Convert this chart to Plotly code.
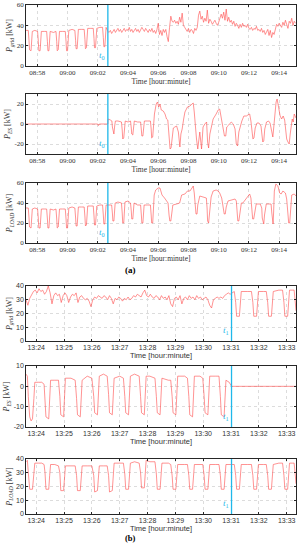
import pandas as pd
import plotly.graph_objects as go

# ---------------- DATA ----------------
# (a) times in seconds after 08:57:00
T0_A = 340  # t0 = 09:02:40
load_a_t = [13, 24, 27, 29, 35, 37, 40, 50, 60,
            61, 64, 66, 71, 73, 76, 88,
            97, 100, 102, 106, 108, 111, 124,
            134, 137, 139, 143, 145, 148, 160,
            171, 174, 176, 180, 182, 185, 198,
            209, 212, 214, 218, 220, 223, 235,
            246, 249, 251, 255, 257, 260, 272,
            282, 285, 287, 291, 293, 296, 308,
            319, 322, 324, 328, 330, 333, 345,
            355, 358, 360, 364, 366, 369, 380,
            394, 397, 399, 403, 405, 408, 420,
            430, 433, 435, 439, 441, 444, 458,
            470, 473, 475, 479, 481, 484, 497,
            509, 512, 514, 518, 520, 524, 530, 540, 547, 555, 565, 573,
            579, 583, 586, 590, 593, 598, 613, 625, 633, 646, 656, 666, 674, 679, 683,
            686, 690, 694, 697, 705, 718, 731,
            734, 736, 740, 743, 750, 758, 770, 778, 784,
            792, 798, 802, 806, 810, 817, 830, 845, 850,
            853, 856, 860, 864, 870, 876, 890, 903, 908,
            912, 915, 919, 923, 929, 945, 951,
            953, 956, 959, 962, 969, 980, 988, 991,
            993, 996, 998, 1001, 1007, 1015, 1022, 1028, 1035, 1045, 1050,
            1055, 1058, 1062, 1066, 1070, 1080, 1087]
load_a_v = [35, 35, 25, 16, 15, 24, 34, 35, 34,
            34, 24, 15, 15, 24, 34, 34,
            34, 24, 15, 15, 25, 34, 33,
            34, 24, 15, 16, 25, 34, 34,
            34, 24, 15, 15, 25, 35, 36,
            35, 25, 17, 17, 26, 36, 36,
            36, 26, 17, 18, 27, 37, 37,
            37, 27, 18, 18, 28, 37, 38,
            38, 28, 19, 19, 28, 38, 38,
            38, 30, 22, 22, 30, 40, 41,
            40, 30, 20, 20, 30, 41, 42,
            40, 32, 24, 24, 32, 40, 38,
            38, 28, 20, 20, 28, 38, 38,
            38, 28, 20, 20, 30, 48, 53, 55, 55, 48, 45, 42,
            40, 28, 22, 22, 28, 38, 39, 40, 48, 49, 52, 52, 55, 57, 50,
            38, 29, 29, 38, 47, 46, 45,
            35, 22, 20, 30, 46, 52, 53, 52, 50,
            45, 35, 29, 29, 36, 42, 43, 44, 42,
            32, 22, 22, 32, 40, 40, 45, 49, 45,
            32, 24, 24, 32, 39, 39, 35,
            25, 19, 19, 28, 39, 39, 39, 30,
            21, 19, 30, 52, 59, 57, 50, 49, 52, 50, 44,
            30, 20, 20, 35, 48, 49, 47]

# grid power after t0, sampled every 5 s starting at t0
GRID_A_STEP = 5
grid_a_post_v = [34, 33, 35, 32, 34, 36, 33, 35, 37, 34, 36, 33, 35, 37, 34, 36, 35, 38, 34, 36,
                 33, 35, 37, 34, 36, 33, 35, 38, 36, 34, 37, 35, 33, 36, 34, 37, 33, 35, 32,
                 36, 42, 31, 35, 30, 36, 33, 36, 29, 24, 38, 49, 44, 43,
                 45, 42, 44, 41, 48, 43, 52, 40, 38,
                 36, 34, 37, 33, 36, 35, 32, 37, 35, 38,
                 50, 54, 46, 49, 43, 47, 44, 55, 42, 46, 44, 41, 43, 45, 42, 40, 43, 48, 51, 47,
                 53, 45, 56, 44, 48, 43, 45,
                 41, 44, 39, 42, 40, 37, 41, 38, 42, 39, 40, 38, 41, 37,
                 36, 38, 35, 37, 36, 39, 35, 36, 34, 37, 33, 35, 31, 34, 36, 30, 35, 28, 33, 31,
                 38, 41, 39, 42, 40, 38, 43, 40, 45, 41, 37, 44, 42, 47, 40, 44, 42]

es_a_t = [13, 300, 303, 306, 340, 341, 350, 356, 358, 361, 364, 367, 370, 380, 390, 394, 397, 399, 403,
          406, 409, 420, 430, 433, 435, 439, 442, 445, 458, 470, 473, 475, 479, 482, 485, 497, 509,
          512, 514, 518, 521, 525, 532, 537, 542, 547, 552, 560, 567, 573, 578, 583, 587, 591, 596,
          600, 606, 613, 620, 626, 630, 635, 641, 646, 656, 666, 674, 679, 683, 687, 692, 697, 705,
          712, 718, 725, 732, 736, 740, 745, 751, 758, 770, 778, 784, 792, 798, 803, 808, 812, 820,
          830, 838, 845, 850, 855, 860, 866, 872, 880, 890, 896, 903, 908, 912, 916, 920, 925, 932,
          940, 948, 952, 955, 959, 963, 970, 978, 984, 990, 995, 998, 1002, 1008, 1012, 1018, 1024,
          1030, 1036, 1042, 1046, 1050, 1055, 1060, 1064, 1068, 1072, 1076, 1080, 1087]
es_a_v = [0, 0, -1.5, 0, 0, 5, 4, 3, -3, -10, -10, -2, 3, 3, 2, 2, -6, -15, -14,
          -5, 3, 2, 3, -4, -10, -11, -3, 3, 2, 2, -6, -12, -12, -4, 3, 3, 3,
          -5, -14, -13, -3, 10, 20, 22, 17, 20, 14, 13, 10, 5, 4, -10, -25, -24, -8,
          -4, -3, -2, -8, -23, -10, -5, 5, 12, 17, 18, 20, 21, 12, -2, -15, -25, -8,
          -25, -3, 0, 2, -18, -24, -10, -2, 5, 10, 14, 15, 5, -5, -12, -12, -3, -1,
          2, 0, -5, -20, -22, -8, -2, 3, 8, 8, 9, 10, 3, -10, -15, -14, -4, 1,
          1, -2, -10, -18, -17, -5, 2, 3, 1, -5, -13, -5, 10, 22, 25, 15, 8,
          5, 8, 4, -5, -15, -18, -20, -10, 0, 5, 2, 10, 6]

# (b) times in seconds after 13:23:00
T1_B = 481  # t1 = 13:31:01
load_b_t = [38, 41, 43, 46, 52, 55, 57, 65, 72, 77,
            79, 81, 87, 89, 91, 100, 108,
            111, 113, 119, 121, 123, 135, 144,
            147, 149, 155, 157, 159, 170, 180,
            184, 186, 192, 194, 196, 205, 213,
            216, 218, 224, 226, 228, 240, 248,
            251, 253, 259, 261, 263, 272, 282,
            285, 287, 293, 295, 297, 305, 316,
            319, 321, 327, 329, 331, 345, 350,
            353, 355, 361, 363, 365, 380, 386,
            389, 391, 397, 399, 401, 413, 419,
            422, 424, 430, 432, 434, 447, 454,
            457, 459, 465, 467, 469, 480, 487,
            490, 492, 498, 500, 502, 515, 524,
            527, 529, 535, 537, 539, 550, 556,
            559, 561, 567, 569, 571, 583, 591,
            594, 596, 602, 604, 606, 613, 616, 618, 620]
load_b_v = [38, 39, 30, 18, 18, 28, 37, 37, 37, 36,
            30, 18, 18, 28, 36, 36, 35,
            30, 17, 17, 27, 35, 35, 35,
            28, 17, 17, 27, 35, 35, 35,
            28, 16, 17, 27, 35, 35, 35,
            28, 16, 17, 28, 37, 37, 37,
            29, 18, 18, 28, 37, 38, 37,
            30, 19, 19, 29, 39, 38, 38,
            29, 18, 18, 28, 37, 37, 36,
            28, 18, 18, 28, 36, 36, 36,
            28, 18, 18, 28, 36, 36, 36,
            28, 18, 18, 28, 36, 36, 36,
            28, 18, 18, 28, 36, 36, 36,
            28, 18, 18, 28, 36, 36, 36,
            28, 18, 18, 28, 36, 36, 36,
            28, 18, 18, 28, 36, 37, 37,
            28, 18, 18, 28, 37, 37, 37, 30, 22]

# grid power before t1, sampled every 4 s starting at 13:23:38
GRID_B_START = 38
GRID_B_STEP = 4
grid_b_pre_v = [30, 26, 31, 34, 36, 37, 35, 38, 36, 37, 34, 36, 40, 35, 27, 33, 35, 33, 34, 28,
                33, 35, 33, 28, 32, 34, 33, 35, 28, 32, 33, 31, 30, 31, 29, 25, 30, 32, 31, 33,
                32, 31, 33, 32, 30, 33, 31, 27, 31, 30, 32, 31, 29, 31, 30, 32, 30, 31, 33, 32,
                34, 33, 32, 35, 37, 33, 32, 34, 32, 31, 33, 32, 30, 33, 31, 32, 30, 33, 27, 25,
                31, 32, 30, 33, 27, 31, 32, 30, 33, 31, 32, 30, 33, 31, 32, 30, 31, 32, 30, 26,
                24, 30, 31, 32, 31, 32, 31, 33, 34, 35, 34]

es_b_t = [38, 41, 43, 46, 49, 52, 55, 57, 65, 72, 77,
          79, 81, 87, 89, 91, 100, 108,
          111, 113, 119, 121, 123, 135, 144,
          147, 149, 155, 157, 159, 170, 180,
          184, 186, 192, 194, 196, 205, 213,
          216, 218, 224, 226, 228, 240, 248,
          251, 253, 259, 261, 263, 272, 282,
          285, 287, 293, 295, 297, 305, 316,
          319, 321, 327, 329, 331, 345, 350,
          353, 355, 361, 363, 365, 380, 386,
          389, 391, 397, 399, 401, 413, 419,
          422, 424, 430, 432, 434, 447, 454,
          457, 459, 465, 467, 469, 476, 479, 481, 620]
es_b_v = [6, 5, -5, -15, -17, -16, -6, 2, 2, 2, 1,
          -5, -15, -16, -6, 3, 3, 3,
          -5, -14, -15, -5, 4, 4, 3,
          -6, -14, -15, -5, 3, 5, 4,
          -5, -13, -14, -5, 5, 6, 5,
          -4, -13, -14, -4, 4, 5, 4,
          -5, -13, -14, -4, 5, 6, 5,
          -5, -13, -14, -4, 5, 5, 4,
          -5, -13, -14, -4, 4, 3, 3,
          -5, -13, -14, -4, 5, 5, 4,
          -5, -14, -15, -5, 5, 5, 4,
          -5, -13, -14, -4, 5, 5, 5,
          -5, -14, -15, -5, 3, 2, 1, 0, 0]

ticks_a = ["08:58", "09:00", "09:02", "09:04", "09:06", "09:08", "09:10", "09:12", "09:14"]
ticks_b = ["13:24", "13:25", "13:26", "13:27", "13:28", "13:29", "13:30", "13:31", "13:32", "13:33"]
RANGE_A = ("08:57:15", "09:15:07")
RANGE_B = ("13:23:38", "13:33:20")

# ---------------- BUILD ----------------
DAY = "2020-01-01 "
BASE_A = pd.Timestamp(DAY + "08:57:00")
BASE_B = pd.Timestamp(DAY + "13:23:00")


def to_a(ts):
    return [BASE_A + pd.Timedelta(seconds=s) for s in ts]


def to_b(ts):
    return [BASE_B + pd.Timedelta(seconds=s) for s in ts]


grid_a_t = [t for t in load_a_t if t <= T0_A] + [T0_A + GRID_A_STEP * i for i in range(len(grid_a_post_v))]
grid_a_v = [v for t, v in zip(load_a_t, load_a_v) if t <= T0_A] + grid_a_post_v

grid_b_t = [GRID_B_START + GRID_B_STEP * i for i in range(len(grid_b_pre_v))] + [t for t in load_b_t if t >= T1_B]
grid_b_v = grid_b_pre_v + [v for t, v in zip(load_b_t, load_b_v) if t >= T1_B]

W, H = 303, 550


def px(x):
    return x / W


def py(y):
    return 1 - y / H


X0, X1 = 26, 296
panels = [
    (to_a(grid_a_t), grid_a_v, 5, 66, [0, 60], [0, 20, 40, 60], "<i>P</i><sub><i>grid</i></sub> [kW]", "a"),
    (to_a(es_a_t), es_a_v, 94, 154, [-30, 30], [-20, 0, 20], "<i>P</i><sub><i>ES</i></sub> [kW]", "a"),
    (to_a(load_a_t), load_a_v, 183, 243, [0, 60], [0, 20, 40, 60], "<i>P</i><sub><i>LOAD</i></sub> [kW]", "a"),
    (to_b(grid_b_t), grid_b_v, 286, 341, [0, 40], [0, 10, 20, 30, 40], "<i>P</i><sub><i>grid</i></sub> [kW]", "b"),
    (to_b(es_b_t), es_b_v, 366, 427, [-20, 10], [-20, -10, 0, 10], "<i>P</i><sub><i>ES</i></sub> [kW]", "b"),
    (to_b(load_b_t), load_b_v, 459, 514, [0, 40], [0, 10, 20, 30, 40], "<i>P</i><sub><i>LOAD</i></sub> [kW]", "b"),
]

RED = "#ff4a4a"
CYAN = "#1fb8ea"
AX = "#262626"
SERIF = "Liberation Serif, Times New Roman, serif"
SANS = "Liberation Sans, Arial, sans-serif"

fig = go.Figure()
layout = dict(template="none", width=W, height=H, margin=dict(l=0, r=0, t=0, b=0, autoexpand=False),
              paper_bgcolor="white", plot_bgcolor="white", showlegend=False)
shapes = []
annotations = []

for i, (xs, ys, top, bot, yr, yt, ylab, grp) in enumerate(panels, start=1):
    xn = "x" if i == 1 else f"x{i}"
    yn = "y" if i == 1 else f"y{i}"
    fig.add_trace(go.Scatter(x=xs, y=ys, mode="lines", xaxis=xn, yaxis=yn,
                             line=dict(color=RED, width=0.6), hoverinfo="skip"))
    if grp == "a":
        labels, rng, font = ticks_a, RANGE_A, SERIF
        tvals = [pd.Timestamp(DAY + s) for s in ticks_a]
        tmark = BASE_A + pd.Timedelta(seconds=T0_A)
        tname = "<i>t</i><sub>0</sub>"
    else:
        labels, rng, font = ticks_b, RANGE_B, SANS
        tvals = [pd.Timestamp(DAY + s) for s in ticks_b]
        tmark = BASE_B + pd.Timedelta(seconds=T1_B)
        tname = "<i>t</i><sub>1</sub>"
    common = dict(showline=True, linecolor=AX, linewidth=0.6, mirror="ticks",
                  ticks="inside", ticklen=2, tickwidth=0.5, tickcolor=AX,
                  showgrid=True, gridcolor="#dcdcdc", gridwidth=0.5, griddash="dot",
                  zeroline=False, automargin=False)
    layout["xaxis" if i == 1 else f"xaxis{i}"] = dict(
        common, domain=[px(X0), px(X1)], anchor=yn, type="date",
        range=[DAY + rng[0], DAY + rng[1]], tickvals=tvals, ticktext=labels,
        tickfont=dict(family=font, size=7, color="#333"),
        title=dict(text="Time [hour:minute]", font=dict(family=font, size=7.5, color="#333"), standoff=1))
    layout["yaxis" if i == 1 else f"yaxis{i}"] = dict(
        common, domain=[py(bot), py(top)], anchor=xn, range=yr,
        tickvals=yt, ticktext=[str(v) for v in yt],
        tickfont=dict(family=font, size=7, color="#333"),
        title=dict(text=ylab, font=dict(family=SERIF, size=8, color="#333"), standoff=2))
    shapes.append(dict(type="line", xref=xn, yref=f"{yn} domain", x0=tmark, x1=tmark, y0=0, y1=1,
                       line=dict(color=CYAN, width=1.3)))
    annotations.append(dict(xref=xn, yref=f"{yn} domain", x=tmark, y=0.05, text=tname,
                            showarrow=False, xanchor="right", yanchor="bottom", xshift=-1,
                            font=dict(family=SERIF, size=9, color=CYAN)))

annotations.append(dict(xref="paper", yref="paper", x=px(130), y=py(270), text="<b>(a)</b>",
                        showarrow=False, font=dict(family=SERIF, size=9, color="black")))
annotations.append(dict(xref="paper", yref="paper", x=px(130), y=py(545), text="<b>(b)</b>",
                        showarrow=False, font=dict(family=SERIF, size=8.5, color="black")))
layout["shapes"] = shapes
layout["annotations"] = annotations
fig.update_layout(**layout)
fig.write_html("out.html", config={"displayModeBar": False},
               post_script="document.body.style.margin='0';document.body.style.overflow='hidden';")
